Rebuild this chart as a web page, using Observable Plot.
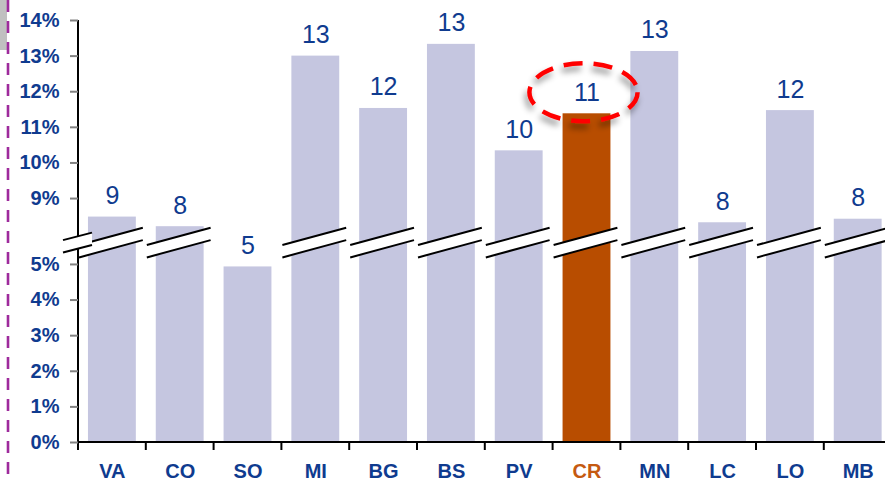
<!DOCTYPE html>
<html><head><meta charset="utf-8">
<script src="https://cdn.jsdelivr.net/npm/d3@7"></script>
<script src="https://cdn.jsdelivr.net/npm/@observablehq/plot@0.6"></script>
<style>
html,body{margin:0;padding:0;background:#fff;overflow:hidden;}
#wrap{position:relative;width:885px;height:482px;}
#chart{position:absolute;left:0;top:0;}
#deco{position:absolute;left:0;top:0;}
</style></head><body>
<div id="wrap"><div id="chart"></div>
<svg id="deco" width="20" height="482"><rect x="0" y="0" width="7" height="50" fill="#c0c0c0"/><line x1="8" y1="0" x2="8" y2="482" stroke="#9e2a9c" stroke-width="2.6" stroke-dasharray="12 9"/></svg>
</div>
<script>
// ---- data ----
const categories = ["VA","CO","SO","MI","BG","BS","PV","CR","MN","LC","LO","MB"];
const values = [8.48, 8.21, 4.93, 13.0, 11.53, 13.33, 10.34, 11.38, 13.13, 8.32, 11.47, 8.42];
const valueLabels = ["9","8","5","13","12","13","10","11","13","8","12","8"];
const yTicks = [0,1,2,3,4,5,9,10,11,12,13,14];
const highlight = "CR";
// axis break: real 5%..9% drawn as a 1.85-unit gap
const axisBreak = {below: 5, above: 9, shownGap: 1.85, markAt: 5.6};

const blue = "#0f3b8f", barColor = "#c5c6e0", hiColor = "#b84d00", hiLabel = "#c55a11";
const cut = axisBreak.above - axisBreak.below - axisBreak.shownGap;
const toDisplay = v => v <= axisBreak.below ? v : v - cut;
const fromDisplay = d => d <= axisBreak.below + 1e-9 ? d : d + cut;
const padInner = 0.294;

const rows = categories.map((c, i) => ({cat: c, value: values[i], t: toDisplay(values[i]), label: valueLabels[i]}));

function axesAndBreaks(index, scales, vals, dims) {
  const x = scales.x, y = scales.y;
  const step = x(categories[1]) - x(categories[0]);
  const bw = step * (1 - padInner);
  const x0 = dims.marginLeft;
  const xEnd = dims.width - dims.marginRight;
  const yb = y(0), yt = y(toDisplay(yTicks[yTicks.length - 1]));
  const g = d3.create("svg:g");
  g.append("line").attr("x1", x0).attr("x2", x0).attr("y1", yt).attr("y2", yb + 1).attr("stroke", "#000").attr("stroke-width", 2);
  g.append("line").attr("x1", x0 - 1).attr("x2", xEnd).attr("y1", yb).attr("y2", yb).attr("stroke", "#000").attr("stroke-width", 2);
  const cellStart = categories.map(c => x(c) - (step - bw) / 2);
  const bounds = cellStart.concat([cellStart[cellStart.length - 1] + step]);
  for (const bx of bounds) {
    g.append("line").attr("x1", bx).attr("x2", bx).attr("y1", yb).attr("y2", yb + 8).attr("stroke", "#000").attr("stroke-width", 2);
  }
  const yc = y(axisBreak.markAt);
  const gap = 12.4;
  function pair(xa, xb, rise) {
    const t1 = [xa, yc - gap / 2 + rise / 2], t2 = [xb, yc - gap / 2 - rise / 2];
    const b1 = [xa, yc + gap / 2 + rise / 2], b2 = [xb, yc + gap / 2 - rise / 2];
    g.append("polygon").attr("points", [t1, t2, b2, b1].map(p => p.join(",")).join(" ")).attr("fill", "#fff");
    for (const [p, q] of [[t1, t2], [b1, b2]]) {
      g.append("line").attr("x1", p[0]).attr("y1", p[1]).attr("x2", q[0]).attr("y2", q[1]).attr("stroke", "#000").attr("stroke-width", 2);
    }
  }
  rows.forEach((r, i) => { if (r.value > axisBreak.below) pair(cellStart[i] + 1, cellStart[i] + step - 3, 17.3); });
  pair(x0 - 15, x0 + 14, 7.5);
  return g.node();
}

function ellipseMark(index, scales, vals, dims) {
  const x = scales.x, y = scales.y;
  const step = x(categories[1]) - x(categories[0]);
  const bw = step * (1 - padInner);
  const r = rows.find(d => d.cat === highlight);
  const cx = x(highlight) + bw / 2 - 3;
  const cy = y(r.t) - 21;
  const g = d3.create("svg:g");
  const f = g.append("defs").append("filter").attr("id", "shad").attr("x", "-30%").attr("y", "-30%").attr("width", "160%").attr("height", "170%");
  f.append("feDropShadow").attr("dx", -2).attr("dy", 5).attr("stdDeviation", 3).attr("flood-color", "#000").attr("flood-opacity", 0.45);
  g.append("ellipse").attr("cx", cx).attr("cy", cy).attr("rx", bw * 1.13).attr("ry", 29)
    .attr("fill", "none").attr("stroke", "#ff0000").attr("stroke-width", 4.5)
    .attr("stroke-dasharray", "19 11").attr("filter", "url(#shad)");
  return g.node();
}

const chart = Plot.plot({
  width: 885,
  height: 482,
  marginLeft: 78,
  marginRight: -6.6,
  marginTop: 20,
  marginBottom: 40,
  style: {fontFamily: "Arial, 'Liberation Sans', sans-serif", background: "transparent"},
  x: {domain: categories, paddingInner: padInner, paddingOuter: padInner / 2, round: false, axis: null},
  y: {domain: [0, toDisplay(yTicks[yTicks.length - 1])], axis: null},
  color: {type: "identity"},
  marks: [
    Plot.barY(rows, {x: "cat", y: "t", fill: d => d.cat === highlight ? hiColor : barColor}),
    axesAndBreaks,
    Plot.axisY({
      ticks: yTicks.map(toDisplay),
      tickFormat: d => Math.round(fromDisplay(d)) + "%",
      label: null,
      tickSize: 8, tickPadding: 11,
      stroke: "#808080", strokeWidth: 2,
      fill: blue, fontSize: 20, fontWeight: "bold"
    }),
    Plot.text(rows, {x: "cat", y: "t", text: "label", dy: -21, fill: blue, fontSize: 25, lineAnchor: "middle"}),
    Plot.text(rows, {x: "cat", y: () => 0, text: "cat", dy: 29.5, fill: d => d.cat === highlight ? hiLabel : blue, fontSize: 20, fontWeight: "bold", lineAnchor: "middle"}),
    ellipseMark
  ]
});
document.getElementById("chart").appendChild(chart);
</script>
</body></html>
